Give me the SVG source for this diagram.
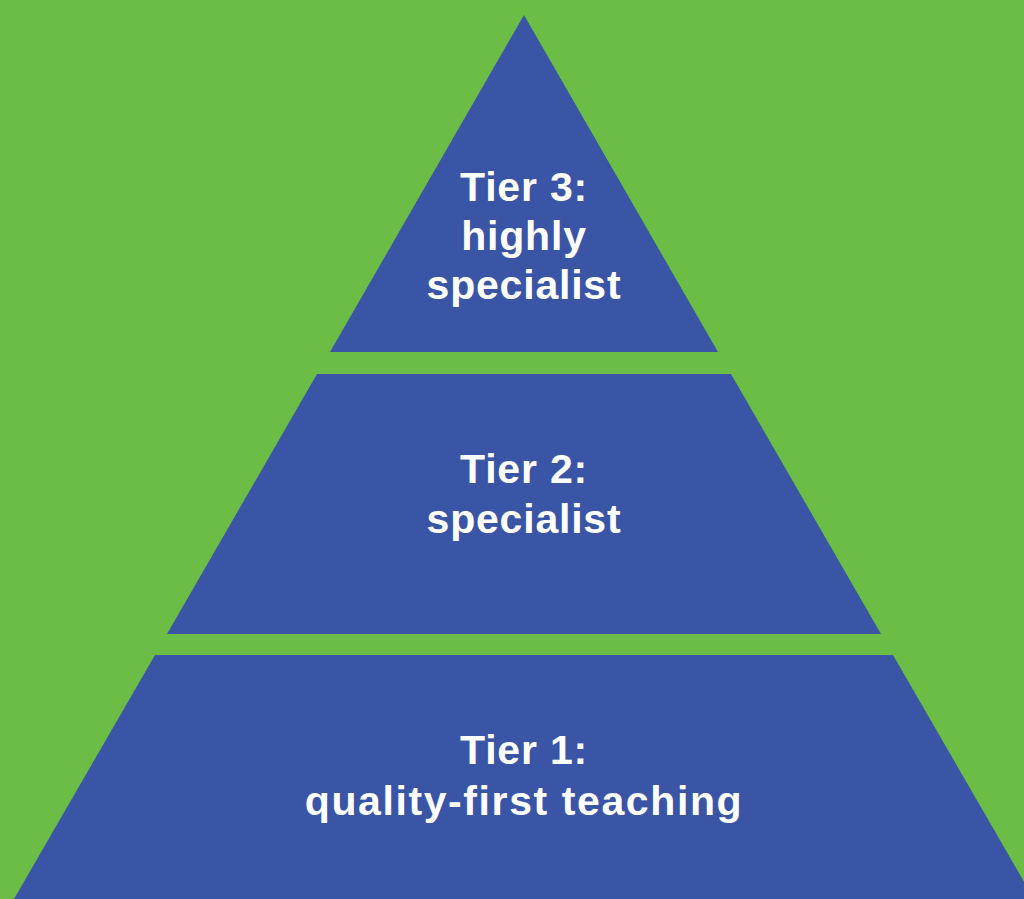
<svg xmlns="http://www.w3.org/2000/svg" width="1024" height="899" viewBox="0 0 1024 899">
<style>
.tier{fill:#3a55a5}
.lbl{fill:#ffffff;font-family:"Liberation Sans",Arial,sans-serif;font-weight:bold;font-size:41px;text-anchor:middle;letter-spacing:0.8px}
.wide{letter-spacing:1.6px}
</style>
<rect width="1024" height="899" fill="#6cbd45"/>
<g id="tier3">
<polygon class="tier" points="524,15 718,352 330,352"/>
<text class="lbl" x="524" y="201">Tier 3:</text>
<text class="lbl" x="524" y="250">highly</text>
<text class="lbl" x="524" y="299">specialist</text>
</g>
<g id="tier2">
<polygon class="tier" points="317,374 731,374 881,634 167,634"/>
<text class="lbl" x="524" y="483">Tier 2:</text>
<text class="lbl" x="524" y="533">specialist</text>
</g>
<g id="tier1">
<polygon class="tier" points="155,655 893,655 1034,899 14,899"/>
<text class="lbl" x="524" y="764">Tier 1:</text>
<text class="lbl wide" x="524" y="815">quality-first teaching</text>
</g>
<g id="connectors"/>
</svg>
